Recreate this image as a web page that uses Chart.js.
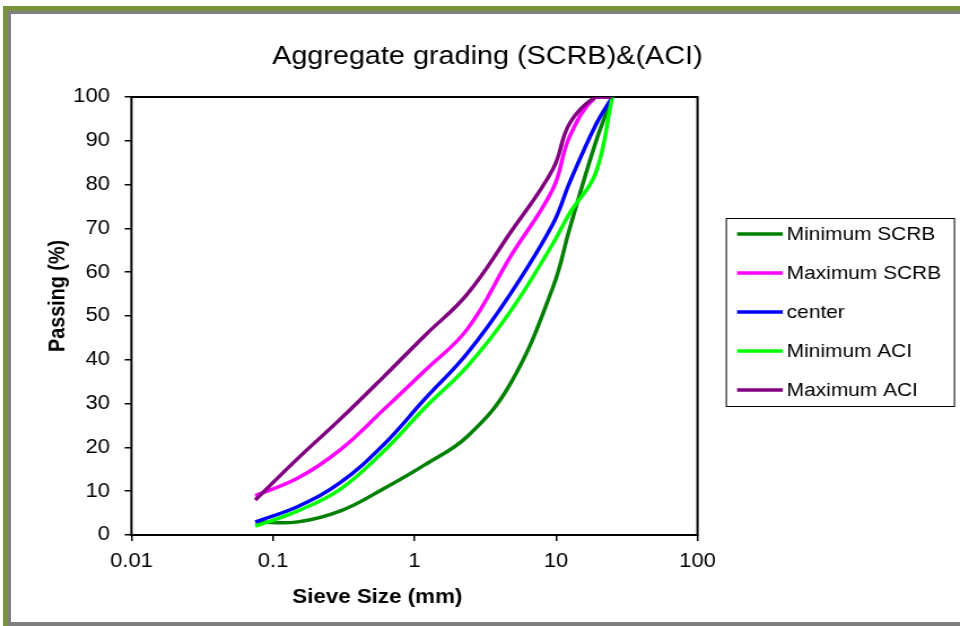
<!DOCTYPE html>
<html>
<head>
<meta charset="utf-8">
<title>Aggregate grading (SCRB)&amp;(ACI)</title>
<script src="https://cdn.jsdelivr.net/npm/chart.js@4.4.1/dist/chart.umd.min.js"></script>
<style>
  html, body { margin: 0; padding: 0; background: #fff; overflow: hidden; }
  /* the original Excel picture was stretched sideways, so is this one */
  .stretch { position: absolute; left: 0; top: 0; width: 850px; height: 626px; transform: scaleX(1.1294); transform-origin: 0 0; }
  .band { position: absolute; z-index: 2; }
</style>
</head>
<body>
<div class="band" style="left:3px;top:6px;width:957px;height:5px;background:#77933c"></div>
<div class="band" style="left:8px;top:11px;width:952px;height:3px;background:#7f7f7f"></div>
<div class="band" style="left:3px;top:6px;width:5px;height:620px;background:#77933c"></div>
<div class="band" style="left:8px;top:11px;width:3px;height:615px;background:#7f7f7f"></div>
<div class="band" style="left:8px;top:622px;width:952px;height:4px;background:#7f7f7f"></div>
<div class="stretch"><canvas id="chart" width="850" height="626"></canvas></div>
<script>
// sieve sizes in mm and % passing
const sieveSizes = [0.075, 0.15, 0.3, 0.6, 1.18, 2.36, 4.75, 9.5, 12.5, 19, 25];
const minSCRB = [3, 3, 5.5, 10.5, 16, 22.5, 34.5, 56.5, 70, 89.5, 100];
const maxSCRB = [9, 13, 19.5, 28.5, 37.5, 47, 63.5, 79, 91, 100, 100];
const center = [3, 6.5, 12, 20.5, 31, 41.5, 55, 71, 80.5, 93.5, 100];
const minACI = [2, 5.5, 10.5, 19, 29, 38.5, 51, 66.5, 73.5, 82.5, 100];
const maxACI = [8, 17.5, 26.5, 36, 45.5, 55, 69, 83.5, 94, 100, 100];

const seriesNames = ["Minimum SCRB", "Maximum SCRB", "center", "Minimum ACI", "Maximum ACI"];
const seriesColors = ["#008000", "#ff00ff", "#0000ff", "#00ff00", "#800080"];
const seriesValues = [minSCRB, maxSCRB, center, minACI, maxACI];

const xTickValues = [0.01, 0.1, 1, 10, 100];
const yTickValues = [0, 10, 20, 30, 40, 50, 60, 70, 80, 90, 100];

const FONT = "'Liberation Sans', Arial, sans-serif";
Chart.defaults.font.family = FONT;
Chart.defaults.color = "#000";

const datasets = seriesNames.map((name, i) => ({
  label: name,
  data: sieveSizes.map((s, j) => ({ x: s, y: seriesValues[i][j] })),
  borderColor: seriesColors[i],
  backgroundColor: seriesColors[i],
  borderWidth: 3.5,
  pointRadius: 0,
  tension: 0.4,
  // Excel draws the last series on top
  order: seriesNames.length - i,
}));

const excelLook = {
  id: "excelLook",
  afterLayout(chart) {
    // title is centred on the whole chart, legend included
    const t = chart.titleBlock;
    t.left = 0;
    t.right = 863;
    t.width = 863;
  },
  beforeDatasetsDraw(chart) {
    const { ctx, chartArea: a } = chart;
    ctx.save();
    ctx.strokeStyle = "#000";
    ctx.lineWidth = 2;
    ctx.strokeRect(a.left, a.top, a.right - a.left, a.bottom - a.top);
    ctx.restore();
  },
  afterDraw(chart) {
    const { ctx, chartArea: a } = chart;
    ctx.save();
    ctx.fillStyle = "#000";
    ctx.textAlign = "center";
    ctx.textBaseline = "middle";

    // axis titles
    ctx.font = "bold 19.8px " + FONT;
    ctx.fillText("Sieve Size (mm)", 334, 598);
    ctx.translate(51.5, 296);
    ctx.rotate(-Math.PI / 2);
    ctx.fillText("Passing (%)", 0, 0);
    ctx.setTransform(1, 0, 0, 1, 0, 0);

    // legend box
    const left = a.right + 25;
    const top = 218;
    ctx.strokeStyle = "#000";
    ctx.lineWidth = 1;
    ctx.strokeRect(left + 0.5, top + 0.5, 202, 188);
    ctx.font = "18.5px " + FONT;
    ctx.textAlign = "left";
    chart.data.datasets.forEach((ds, i) => {
      const y = top + 16 + i * 39;
      ctx.strokeStyle = ds.borderColor;
      ctx.lineWidth = 3.5;
      ctx.beginPath();
      ctx.moveTo(left + 10, y);
      ctx.lineTo(left + 50.5, y);
      ctx.stroke();
      ctx.fillText(ds.label, left + 54, y + 1);
    });
    ctx.restore();
  },
};

new Chart(document.getElementById("chart"), {
  type: "line",
  data: { datasets },
  plugins: [excelLook],
  options: {
    responsive: false,
    animation: false,
    devicePixelRatio: 1,
    layout: { padding: { left: 15, right: 232.4, top: 0, bottom: 0 } },
    plugins: {
      legend: { display: false },
      tooltip: { enabled: false },
      title: {
        display: true,
        text: "Aggregate grading (SCRB)&(ACI)",
        color: "#000",
        font: { size: 25.5, weight: "normal" },
        padding: { top: 42, bottom: 24.4 },
      },
    },
    scales: {
      x: {
        type: "logarithmic",
        min: 0.01,
        max: 100,
        afterBuildTicks: (s) => { s.ticks = xTickValues.map((v) => ({ value: v })); },
        afterFit: (s) => { s.height = 91; },
        border: { display: false },
        grid: { drawOnChartArea: false, drawTicks: true, tickLength: 6, color: "#000", lineWidth: 1.5 },
        ticks: { autoSkip: false, maxRotation: 0, padding: 9, font: { size: 19.5 }, callback: (v) => String(v) },
      },
      y: {
        type: "linear",
        min: 0,
        max: 100,
        afterBuildTicks: (s) => { s.ticks = yTickValues.map((v) => ({ value: v })); },
        afterFit: (s) => { s.width = 101.4; },
        border: { display: false },
        grid: { drawOnChartArea: false, drawTicks: true, tickLength: 6, color: "#000", lineWidth: 1.5 },
        ticks: { padding: 13, font: { size: 19.5 } },
      },
    },
  },
});
</script>
</body>
</html>
